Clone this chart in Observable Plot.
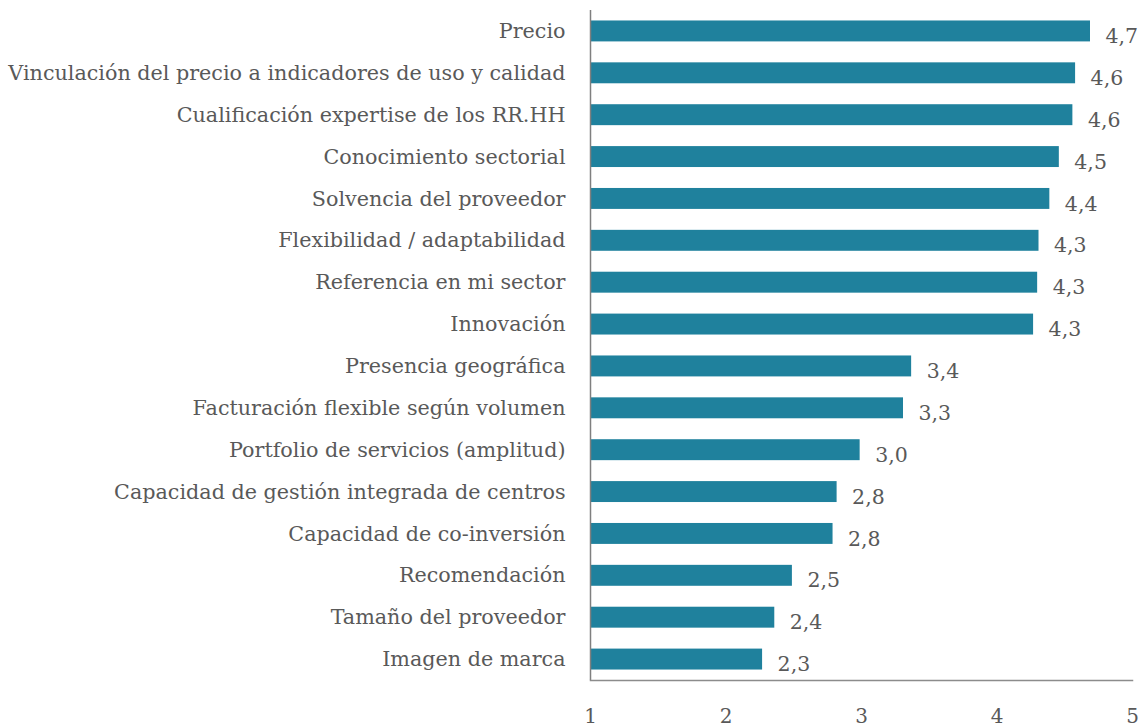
<!DOCTYPE html>
<html>
<head>
<meta charset="utf-8">
<script src="https://cdn.jsdelivr.net/npm/d3@7"></script>
<script src="https://cdn.jsdelivr.net/npm/@observablehq/plot@0.6"></script>
<style>
  body { margin: 0; background: #fff; }
  svg { display: block; }
</style>
</head>
<body>
<div id="chart"></div>
<script>
const categories = [
  "Precio",
  "Vinculación del precio a indicadores de uso y calidad",
  "Cualificación expertise de los RR.HH",
  "Conocimiento sectorial",
  "Solvencia del proveedor",
  "Flexibilidad / adaptabilidad",
  "Referencia en mi sector",
  "Innovación",
  "Presencia geográfica",
  "Facturación flexible según volumen",
  "Portfolio de servicios (amplitud)",
  "Capacidad de gestión integrada de centros",
  "Capacidad de co-inversión",
  "Recomendación",
  "Tamaño del proveedor",
  "Imagen de marca"
];
const values = [4.69, 4.58, 4.56, 4.46, 4.39, 4.31, 4.30, 4.27, 3.37, 3.31, 2.99, 2.82, 2.79, 2.49, 2.36, 2.27];
const xTicks = [1, 2, 3, 4, 5];

const data = categories.map((c, i) => ({category: c, value: values[i]}));
const fmt = v => v.toFixed(1).replace(".", ",");
const font = "DejaVu Serif";
const textColor = "#595959";

const chart = Plot.plot({
  width: 1141,
  height: 728,
  marginLeft: 590,
  marginRight: 9,
  marginTop: 10,
  marginBottom: 48,
  style: {fontFamily: font, fontSize: "20px", color: textColor, background: "#fff"},
  x: {domain: [1, 5]},
  y: {domain: categories, paddingInner: 0.5, paddingOuter: 0.25, round: false},
  marks: [
    Plot.barX(data, {x1: 1, x2: "value", y: "category", fill: "#1f819d"}),
    Plot.text(data, {x: "value", y: "category", text: d => fmt(d.value), textAnchor: "start", dx: 15, dy: 5, fill: textColor, fontSize: 20.5}),
    Plot.axisY({tickSize: 0, tickPadding: 25, fontSize: 20.7, fill: textColor, label: null}),
    Plot.axisX({ticks: xTicks, tickSize: 0, tickPadding: 28, fontSize: 20, fill: textColor, label: null, tickFormat: d => String(d)}),
    Plot.ruleX([1], {stroke: "#7f7f7f", strokeWidth: 1.5}),
    Plot.frame({anchor: "bottom", stroke: "#8c8c8c", strokeWidth: 1.5})
  ]
});
document.getElementById("chart").appendChild(chart);
</script>
</body>
</html>
